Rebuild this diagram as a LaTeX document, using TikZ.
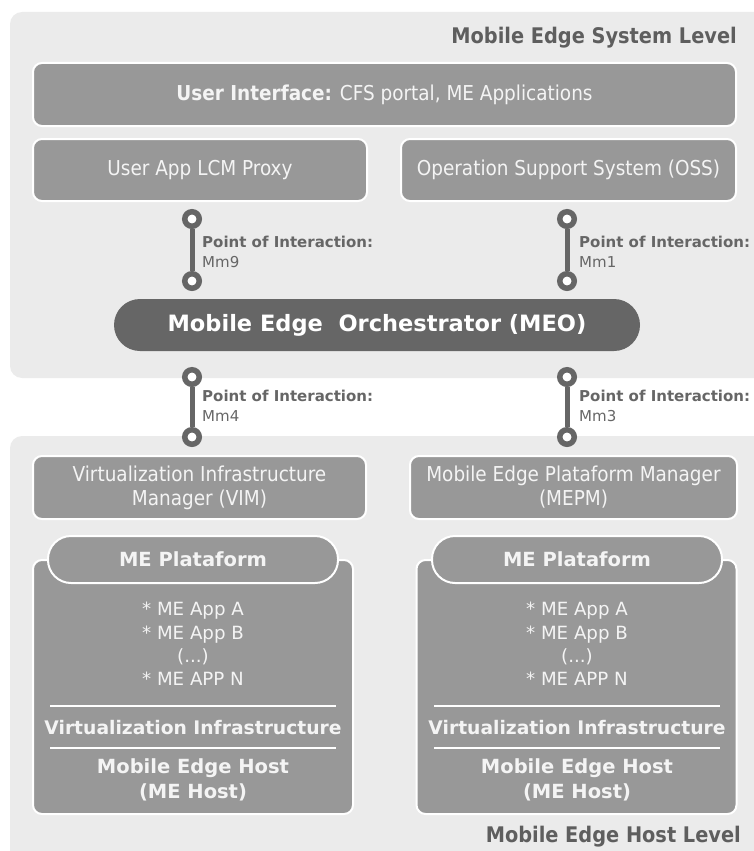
\documentclass[tikz,border=0pt]{standalone}
\usepackage{fontspec}
\setmainfont{DejaVu Sans}
\newfontfamily\condfont{DejaVu Sans Condensed}
\usetikzlibrary{positioning}
\definecolor{panelgray}{HTML}{EBEBEB}
\definecolor{boxgray}{HTML}{989898}
\definecolor{darkgray}{HTML}{666666}
\definecolor{labelgray}{HTML}{5E5E5E}
\definecolor{boxtext}{HTML}{F4F4F4}
\tikzset{
  panel/.style={fill=panelgray, draw=none, rounded corners=12pt},
  box/.style={fill=boxgray, draw=white, line width=2pt, rounded corners=9pt,
    text=boxtext, align=center, inner sep=0pt},
  pill/.style={fill=boxgray, draw=white, line width=2pt, rounded corners=23pt,
    text=boxtext, inner sep=0pt},
  orch/.style={fill=darkgray, draw=none, rounded corners=26pt,
    text=white, inner sep=0pt},
  pin/.style={circle, draw=darkgray, line width=5.5pt, fill=white,
    minimum size=14.5pt, inner sep=0pt},
  pinline/.style={draw=darkgray, line width=5pt},
  poi/.style={text=darkgray, anchor=west, align=left, inner sep=0pt,
    font=\fontsize{15}{20}\selectfont},
  level/.style={text=labelgray, anchor=east, inner sep=0pt,
    font=\condfont\bfseries\fontsize{21.5}{24}\selectfont},
  boxfont/.style={font=\condfont\fontsize{20.5}{25}\selectfont},
  apps/.style={text=boxtext, align=center, inner sep=0pt,
    font=\fontsize{18.2}{23.3}\selectfont},
  hosttext/.style={text=boxtext, align=center, inner sep=0pt,
    font=\bfseries\fontsize{18.7}{25}\selectfont},
  sepline/.style={draw=white, line width=2pt}
}
\begin{document}
\begin{tikzpicture}[x=1pt, y=-1pt]
\useasboundingbox (0,0) rectangle (754,851);

% level panels
\fill[panel] (10,12) rectangle (770,378);
\fill[panel] (10,436) rectangle (770,866);
\node[level] (syslevel) at (737,38) {Mobile Edge System Level};
\node[level] (hostlevel) at (741,837) {Mobile Edge Host Level};

% system level boxes
\node[box, boxfont, minimum width=703pt, minimum height=63pt] (ui) at (384.5,94.5)
  {\textbf{User Interface:} CFS portal, ME Applications};
\node[box, boxfont, minimum width=334pt, minimum height=62pt] (lcm) at (200,170)
  {User App LCM Proxy};
\node[box, boxfont, minimum width=335pt, minimum height=62pt] (oss) at (568.5,170)
  {Operation Support System (OSS)};

% orchestrator
\node[orch, minimum width=526pt, minimum height=52pt,
  font=\bfseries\fontsize{22.5}{24}\selectfont] (meo) at (377,325)
  {Mobile Edge\ \ Orchestrator (MEO)};

% points of interaction
\node[pin] (p9a) at (192,219) {};
\node[pin] (p9b) at (192,281) {};
\node[pin] (p1a) at (567,219) {};
\node[pin] (p1b) at (567,281) {};
\node[pin] (p4a) at (192,377) {};
\node[pin] (p4b) at (192,437) {};
\node[pin] (p3a) at (567,377) {};
\node[pin] (p3b) at (567,437) {};
\draw[pinline] (p9a) -- (p9b);
\draw[pinline] (p1a) -- (p1b);
\draw[pinline] (p4a) -- (p4b);
\draw[pinline] (p3a) -- (p3b);
\node[poi] (l9) at (202,252) {\textbf{Point of Interaction:}\\Mm9};
\node[poi] (l1) at (579,252) {\textbf{Point of Interaction:}\\Mm1};
\node[poi] (l4) at (202,406) {\textbf{Point of Interaction:}\\Mm4};
\node[poi] (l3) at (579,406) {\textbf{Point of Interaction:}\\Mm3};

% host level managers
\node[box, font=\condfont\fontsize{20.5}{24}\selectfont,
  minimum width=333pt, minimum height=63pt] (vim) at (199.5,487.5)
  {Virtualization Infrastructure\\Manager (VIM)};
\node[box, font=\condfont\fontsize{20.5}{24}\selectfont,
  minimum width=327pt, minimum height=63pt] (mepm) at (573.5,487.5)
  {Mobile Edge Plataform Manager\\(MEPM)};

% mobile edge hosts
\foreach \side/\cx/\px in {L/193/193, R/576.5/577} {
  \node[box, minimum width=320pt, minimum height=254pt] (host\side) at (\cx,687) {};
  \node[pill, minimum width=290pt, minimum height=47pt,
    font=\bfseries\fontsize{19.5}{22}\selectfont] (plat\side) at (\px,559.5) {ME Plataform};
  \node[apps] (apps\side) at (\px,644)
    {* ME App A\\* ME App B\\(...)\\* ME APP N};
  \coordinate (s1a\side) at ([xshift=-143pt]\px,706);
  \coordinate (s1b\side) at ([xshift=143pt]\px,706);
  \coordinate (s2a\side) at ([xshift=-143pt]\px,748);
  \coordinate (s2b\side) at ([xshift=143pt]\px,748);
  \draw[sepline] (s1a\side) -- (s1b\side);
  \draw[sepline] (s2a\side) -- (s2b\side);
  \node[hosttext] (vi\side) at (\px,728) {Virtualization Infrastructure};
  \node[hosttext, font=\bfseries\fontsize{19.5}{25}\selectfont] (meh\side) at (\px,780) {Mobile Edge Host\\(ME Host)};
}
\end{tikzpicture}
\end{document}
